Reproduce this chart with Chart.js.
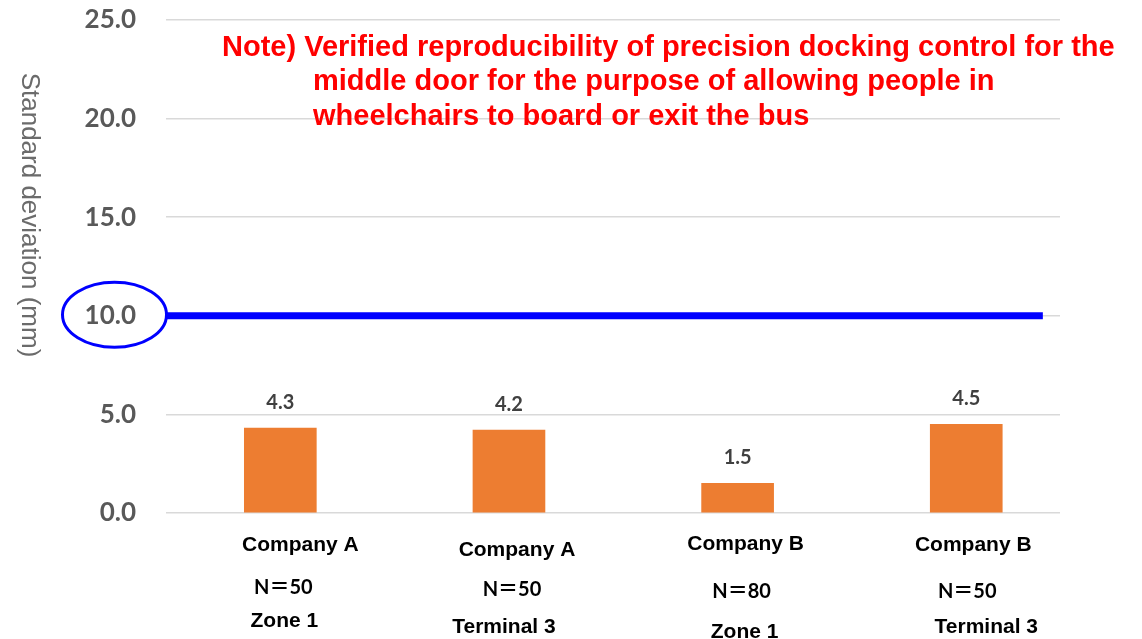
<!DOCTYPE html>
<html>
<head>
<meta charset="utf-8">
<script src="https://cdn.jsdelivr.net/npm/chart.js@4.4.1/dist/chart.umd.min.js"></script>
<style>
  html, body { margin: 0; padding: 0; background: #fff; }
  #wrap { width: 1142px; height: 639px; position: relative; }
</style>
</head>
<body>
<div id="wrap"><canvas id="sdChart"></canvas></div>
<script>
// bar values and labels
const COMPANIES = ['Company A', 'Company A', 'Company B', 'Company B'];
const SAMPLES = ['N＝50', 'N＝50', 'N＝80', 'N＝50'];
const SITES = ['Zone 1', 'Terminal 3', 'Zone 1', 'Terminal 3'];
const STD_DEV = [4.3, 4.2, 1.5, 4.5];
const Y_TICKS = [0, 5, 10, 15, 20, 25];
const THRESHOLD = 10;
const NOTE_LINES = [
    'Note) Verified reproducibility of precision docking control for the',
    'middle door for the purpose of allowing people in',
    'wheelchairs to board or exit the bus'
];

// per-line nudges for the category labels [dx, y]
const LABEL_LAYOUT = [
    [[20, 545], [3, 588], [4, 621]],
    [[8, 550], [3, 590], [-5, 627]],
    [[8, 544], [4, 592], [7, 632]],
    [[7, 545], [1, 592], [20, 627]]
];

const ARIAL_B = 'bold 21px "Liberation Sans", Arial, sans-serif';
const LATO_B = 'bold 20px Lato, "Noto Sans CJK JP", sans-serif';

const extras = {
    id: 'extras',
    afterDatasetsDraw(chart) {
        const ctx = chart.ctx;
        const xs = chart.scales.x;
        const ys = chart.scales.y;
        const area = chart.chartArea;
        ctx.save();

        // value labels above bars
        const meta = chart.getDatasetMeta(0);
        ctx.font = 'bold 20px Lato, sans-serif';
        ctx.fillStyle = '#404040';
        ctx.textAlign = 'center';
        ctx.textBaseline = 'middle';
        meta.data.forEach((bar, i) => {
            ctx.fillText(STD_DEV[i].toFixed(1), bar.x, bar.y - 26);
        });

        // category labels, three lines each
        ctx.fillStyle = '#000';
        STD_DEV.forEach((v, i) => {
            const cx = xs.getPixelForValue(i);
            const rows = [COMPANIES[i], SAMPLES[i], SITES[i]];
            rows.forEach((txt, r) => {
                ctx.font = r === 1 ? LATO_B : ARIAL_B;
                const [dx, y] = LABEL_LAYOUT[i][r];
                ctx.fillText(txt, cx + dx, y);
            });
        });

        // circle round the 10.0 tick
        ctx.strokeStyle = '#0000FF';
        ctx.lineWidth = 3;
        ctx.beginPath();
        ctx.ellipse(area.left - 51.5, ys.getPixelForValue(THRESHOLD) - 1, 52, 32.5, 0, 0, Math.PI * 2);
        ctx.stroke();

        // note
        ctx.font = 'bold 29px "Liberation Sans", Arial, sans-serif';
        ctx.fillStyle = '#FF0000';
        ctx.textAlign = 'left';
        ctx.fillText(NOTE_LINES[0], 222, 48);
        ctx.fillText(NOTE_LINES[1], 313, 82);
        ctx.fillText(NOTE_LINES[2], 313, 117);

        // axis title, reads top to bottom
        ctx.font = '26px "Liberation Sans", Arial, sans-serif';
        ctx.fillStyle = '#6b6b6b';
        ctx.textAlign = 'center';
        ctx.translate(29, 215);
        ctx.rotate(Math.PI / 2);
        ctx.fillText('Standard deviation (mm)', 0, 0);
        ctx.restore();
    }
};

const ctx = document.getElementById('sdChart').getContext('2d');
const chart = new Chart(ctx, {
    data: {
        datasets: [{
            type: 'bar',
            data: STD_DEV.map((v, i) => ({ x: i, y: v })),
            backgroundColor: '#ED7D31',
            barThickness: 72,
            order: 2
        }, {
            type: 'line',
            data: [{ x: -0.5, y: THRESHOLD }, { x: 3.335, y: THRESHOLD }],
            borderColor: '#0000FF',
            borderWidth: 7,
            pointRadius: 0,
            borderCapStyle: 'butt',
            order: 1
        }]
    },
    options: {
        responsive: true,
        maintainAspectRatio: false,
        animation: false,
        layout: { padding: { top: 20, right: 82, bottom: 126, left: 0 } },
        plugins: {
            legend: { display: false },
            tooltip: { enabled: false }
        },
        scales: {
            x: {
                type: 'linear',
                display: false,
                offset: false,
                min: -0.5,
                max: 3.41
            },
            y: {
                min: 0,
                max: 25,
                afterFit: (scale) => {
                    scale.width = 166;
                    scale.paddingTop = 0;
                    scale.paddingBottom = 0;
                },
                afterBuildTicks: (scale) => { scale.ticks = Y_TICKS.map(v => ({ value: v })); },
                border: { display: false },
                grid: { color: '#D9D9D9', lineWidth: 1.5, drawTicks: false },
                ticks: {
                    padding: 30,
                    color: '#595959',
                    font: { family: 'Lato', weight: 'bold', size: 26 },
                    callback: (v) => v.toFixed(1)
                }
            }
        }
    },
    plugins: [extras]
});
</script>
</body>
</html>
